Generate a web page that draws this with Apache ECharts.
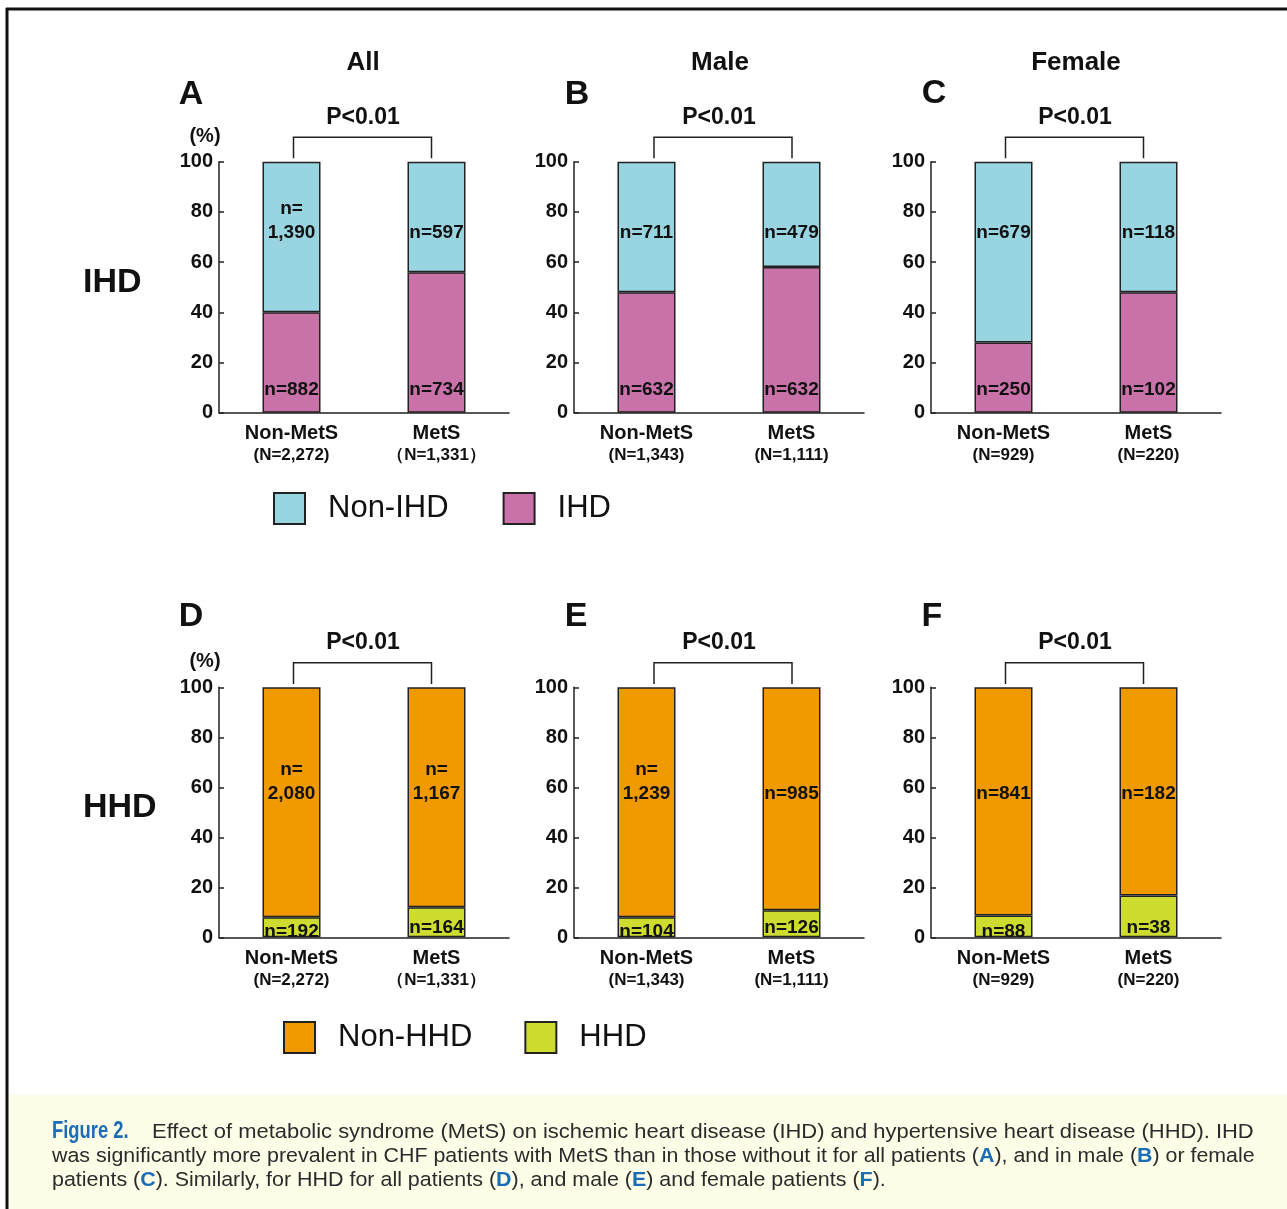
<!DOCTYPE html>
<html><head><meta charset="utf-8">
<script src="https://cdn.jsdelivr.net/npm/echarts@6/dist/echarts.min.js"></script>
<style>html,body{margin:0;padding:0;background:#fff}#c{width:1287px;height:1209px}</style>
</head><body><div id="c"></div>
<script>
// ---------------- data ----------------
const panelTitles = ['All', 'Male', 'Female'];
const panelLetters = ['A', 'B', 'C', 'D', 'E', 'F'];
const rowLabels = ['IHD', 'HHD'];
const categories = ['Non-MetS', 'MetS'];
const groupSizesAll = ['(N=2,272)', '（N=1,331）'];
const groupSizesMale = ['(N=1,343)', '(N=1,111)'];
const groupSizesFemale = ['(N=929)', '(N=220)'];
const yTicks = [0, 20, 40, 60, 80, 100];
const pValueLabel = 'P<0.01';

// percentage of patients
const ihdA = [40, 56];     const nonIhdA = [60, 44];
const ihdB = [48, 58];     const nonIhdB = [52, 42];
const ihdC = [28, 48];     const nonIhdC = [72, 52];
const hhdD = [8, 12];      const nonHhdD = [92, 88];
const hhdE = [8, 10.8];    const nonHhdE = [92, 89.2];
const hhdF = [8.7, 16.7];  const nonHhdF = [91.3, 83.3];

// counts printed on the bars
const ihdCountA = ['n=882', 'n=734'];  const nonIhdCountA = ['n=\n1,390', 'n=597'];
const ihdCountB = ['n=632', 'n=632'];  const nonIhdCountB = ['n=711', 'n=479'];
const ihdCountC = ['n=250', 'n=102'];  const nonIhdCountC = ['n=679', 'n=118'];
const hhdCountD = ['n=192', 'n=164'];  const nonHhdCountD = ['n=\n2,080', 'n=\n1,167'];
const hhdCountE = ['n=104', 'n=126'];  const nonHhdCountE = ['n=\n1,239', 'n=985'];
const hhdCountF = ['n=88', 'n=38'];    const nonHhdCountF = ['n=841', 'n=182'];

const captionLine1 = 'Effect of metabolic syndrome (MetS) on ischemic heart disease (IHD) and hypertensive heart disease (HHD). IHD';
const captionLine2 = 'was significantly more prevalent in CHF patients with MetS than in those without it for all patients ({b|A}), and in male ({b|B}) or female';
const captionLine3 = 'patients ({b|C}). Similarly, for HHD for all patients ({b|D}), and male ({b|E}) and female patients ({b|F}).';

// ---------------- styling / layout ----------------
const FONT = '"Liberation Sans", Arial, Helvetica, sans-serif';
const INK = '#111';
const COL = { nonIhd: '#99d5e0', ihd: '#c872a9', nonHhd: '#f09a00', hhd: '#cddc2f' };
const gridLefts = [219, 574, 931];
const gridTops = [161.7, 687.3];
const gridHeights = [251, 250];
const gridWidth = 290;
const lowDist = [[11, 11], [-6.7, -2]];
const upOffset = [82.6, 118];
const bracketLegs = [[2, -5], [7.5, 0.5], [2, -5]];
const titleX = [363, 720, 1076];
const pX = [363, 719, 1075];

const panels = [
  { row: 0, col: 0, sizes: groupSizesAll, low: ['IHD', ihdA, ihdCountA, COL.ihd], up: ['Non-IHD', nonIhdA, nonIhdCountA, COL.nonIhd] },
  { row: 0, col: 1, sizes: groupSizesMale, low: ['IHD', ihdB, ihdCountB, COL.ihd], up: ['Non-IHD', nonIhdB, nonIhdCountB, COL.nonIhd] },
  { row: 0, col: 2, sizes: groupSizesFemale, low: ['IHD', ihdC, ihdCountC, COL.ihd], up: ['Non-IHD', nonIhdC, nonIhdCountC, COL.nonIhd] },
  { row: 1, col: 0, sizes: groupSizesAll, low: ['HHD', hhdD, hhdCountD, COL.hhd], up: ['Non-HHD', nonHhdD, nonHhdCountD, COL.nonHhd] },
  { row: 1, col: 1, sizes: groupSizesMale, low: ['HHD', hhdE, hhdCountE, COL.hhd], up: ['Non-HHD', nonHhdE, nonHhdCountE, COL.nonHhd] },
  { row: 1, col: 2, sizes: groupSizesFemale, low: ['HHD', hhdF, hhdCountF, COL.hhd], up: ['Non-HHD', nonHhdF, nonHhdCountF, COL.nonHhd] }
];

const labelBase = { show: true, fontFamily: FONT, fontSize: 19, fontWeight: 'bold', color: INK, lineHeight: 24 };
const axisLineStyle = { color: '#222', width: 1.5 };

const grid = [], xAxis = [], yAxis = [], series = [];
panels.forEach((p, i) => {
  grid.push({ left: gridLefts[p.col], top: gridTops[p.row], width: gridWidth, height: gridHeights[p.row] });
  xAxis.push({
    type: 'category', gridIndex: i, data: categories,
    axisLine: { lineStyle: axisLineStyle },
    axisTick: { inside: true, length: 5, lineStyle: axisLineStyle },
    axisLabel: {
      interval: 0, margin: 10, color: INK,
      formatter: (v, idx) => '{a|' + v + '}\n{b|' + p.sizes[idx] + '}',
      rich: {
        a: { fontFamily: FONT, fontSize: 20, fontWeight: 'bold', color: INK, lineHeight: 22 },
        b: { fontFamily: FONT, fontSize: 17, fontWeight: 'bold', color: INK, lineHeight: 22 }
      }
    }
  });
  yAxis.push({
    type: 'value', gridIndex: i, min: yTicks[0], max: yTicks[yTicks.length - 1], interval: yTicks[1] - yTicks[0],
    axisLine: { show: true, lineStyle: axisLineStyle },
    axisTick: { show: true, inside: true, length: 5, lineStyle: axisLineStyle },
    axisLabel: { fontFamily: FONT, fontSize: 20, fontWeight: 'bold', color: INK, margin: 6 },
    splitLine: { show: false }
  });
  const [lName, lVals, lLabels, lCol] = p.low;
  const [uName, uVals, uLabels, uCol] = p.up;
  series.push({
    type: 'bar', name: lName, stack: 's' + i, xAxisIndex: i, yAxisIndex: i, barWidth: 58,
    itemStyle: { color: lCol, borderColor: '#222', borderWidth: 1.5 },
    data: lVals.map((v, j) => ({ value: v, label: Object.assign({}, labelBase, { formatter: lLabels[j], position: 'insideBottom', distance: lowDist[p.row][j] }) }))
  });
  series.push({
    type: 'bar', name: uName, stack: 's' + i, xAxisIndex: i, yAxisIndex: i, barWidth: 58,
    itemStyle: { color: uCol, borderColor: '#222', borderWidth: 1.5 },
    data: uVals.map((v, j) => ({ value: v, label: Object.assign({}, labelBase, { formatter: uLabels[j], position: ['50%', upOffset[p.row]], align: 'center', verticalAlign: 'bottom' }) }))
  });
});

const legendText = { fontFamily: FONT, fontSize: 31, color: INK, padding: [0, 0, 0, 18] };
const chart = echarts.init(document.getElementById('c'), null, { renderer: 'canvas' });
chart.setOption({
  animation: false,
  backgroundColor: '#fff',
  grid, xAxis, yAxis, series,
  legend: [
    { data: ['Non-IHD', 'IHD'], left: 268, top: 487, itemWidth: 31, itemHeight: 31, itemGap: 54, icon: 'rect', selectedMode: false, textStyle: legendText },
    { data: ['Non-HHD', 'HHD'], left: 278, top: 1016, itemWidth: 31, itemHeight: 31, itemGap: 52, icon: 'rect', selectedMode: false, textStyle: legendText }
  ]
});

// ---------------- annotations ----------------
function txt(text, x, y, size, opts) {
  return Object.assign({
    type: 'text', x: x, y: y, z: 10,
    style: Object.assign({ text: text, font: 'bold ' + size + 'px ' + FONT, fill: INK, align: 'center', verticalAlign: 'middle', textAlign: 'center', textVerticalAlign: 'middle' }, (opts && opts.style) || {})
  }, (opts && opts.el) || {});
}
const g = [];
// frame + caption background
g.push({ type: 'rect', shape: { x: 8, y: 1095, width: 1279, height: 114 }, style: { fill: '#fefde8' }, z: 1 });
g.push({ type: 'line', shape: { x1: 6, y1: 9, x2: 1287, y2: 9 }, style: { stroke: '#111', lineWidth: 3 }, z: 5 });
g.push({ type: 'line', shape: { x1: 7, y1: 8, x2: 7, y2: 1209 }, style: { stroke: '#111', lineWidth: 3 }, z: 5 });

const letterPos = [[191, 95], [577, 95], [934, 94], [191, 617], [576, 617], [932, 617]];
panels.forEach((p, i) => {
  g.push(txt(panelLetters[i], letterPos[i][0], letterPos[i][1], 34));
  const x0 = chart.convertToPixel({ xAxisIndex: i }, categories[0]) + bracketLegs[p.col][0];
  const x1 = chart.convertToPixel({ xAxisIndex: i }, categories[1]) + bracketLegs[p.col][1];
  const yTop = chart.convertToPixel({ yAxisIndex: i }, 100);
  const yBr = yTop - 24.5;
  g.push({ type: 'polyline', z: 10, shape: { points: [[x0, yTop - 3.4], [x0, yBr], [x1, yBr], [x1, yTop - 3.4]] }, style: { stroke: '#222', lineWidth: 1.5, fill: null } });
  g.push(txt(pValueLabel, pX[p.col], yTop - 44.5, 23));
  if (p.row === 0) g.push(txt(panelTitles[p.col], titleX[p.col], 63, 26));
});
g.push(txt('(%)', 205, 136, 20));
g.push(txt('(%)', 205, 661, 20));
g.push(txt(rowLabels[0], 83, 283, 34, { style: { align: 'left', textAlign: 'left' } }));
g.push(txt(rowLabels[1], 83, 808, 34, { style: { align: 'left', textAlign: 'left' } }));

// caption
const capFont = '20.5px ' + FONT;
const capRich = { b: { font: 'bold 20.5px ' + FONT, fill: '#1b6db5', color: '#1b6db5' } };
g.push({ type: 'text', x: 52, y: 1132, z: 10, scaleX: 0.8, style: { text: 'Figure 2.', font: 'bold 23px ' + FONT, fill: '#1b6db5', align: 'left', verticalAlign: 'middle', textAlign: 'left', textVerticalAlign: 'middle' } });
[[captionLine1, 152, 1132, 1.07], [captionLine2, 52, 1156, 1.043], [captionLine3, 52, 1180, 1.046]].forEach(([t, x, y, sx]) => {
  g.push({ type: 'text', x: x, y: y, z: 10, scaleX: sx, style: { text: t, font: capFont, fill: '#2b2b2b', rich: capRich, align: 'left', verticalAlign: 'middle', textAlign: 'left', textVerticalAlign: 'middle' } });
});

chart.setOption({ graphic: { elements: g } });
</script>
</body></html>
